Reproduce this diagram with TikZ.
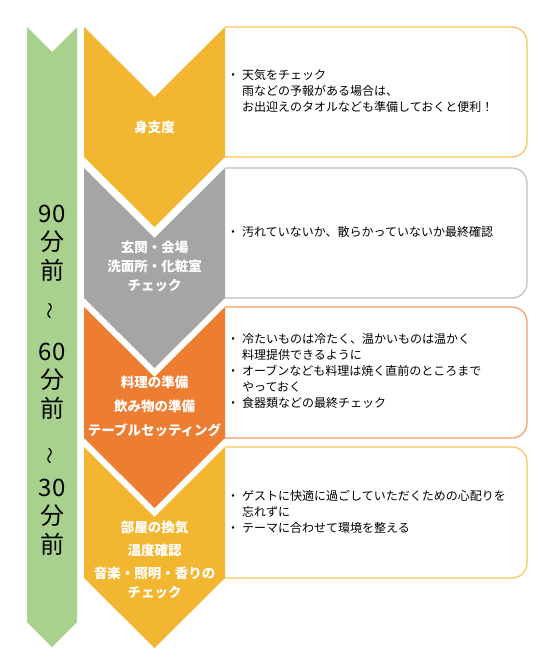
\documentclass[tikz,border=0pt]{standalone}
\usepackage{fontspec}
\setmainfont{Noto Sans CJK JP}
\usepackage{tikz}
\definecolor{gold}{HTML}{F2B630}
\definecolor{goldline}{HTML}{F6C457}
\definecolor{stone}{HTML}{A5A5A5}
\definecolor{stoneline}{HTML}{BDBDBD}
\definecolor{rust}{HTML}{ED7D31}
\definecolor{rustline}{HTML}{F19A62}
\definecolor{sage}{HTML}{A9D18E}
\newcommand{\itm}{・\hspace{3pt}}
\newcommand{\ind}{\hphantom{\itm}}

\begin{document}
\begin{tikzpicture}[
  x=1pt, y=-1pt,
  every node/.style={inner sep=0pt},
  card/.style={fill=white, line width=1.2pt, rounded corners=15pt},
  lbl/.style={text=white, align=center, font=\fontsize{13.5}{19}\selectfont\bfseries},
  note/.style={anchor=west, align=left, font=\fontsize{12}{16}\selectfont},
  side/.style={align=center, font=\fontsize{24}{28.5}\selectfont},
  wave/.style={rotate=90, font=\fontsize{17}{17}\selectfont},
]
\useasboundingbox (0,0) rectangle (554,669);

% time bar
\fill[sage] (27,27) -- (52,52) -- (77,27) -- (77,622) -- (52,647) -- (27,622) -- cycle;
\node[side] (t90) at (52,243) {90\\分\\前};
\node[wave] (til1) at (52,311) {～};
\node[side] (t60) at (52,381) {60\\分\\前};
\node[wave] (til2) at (52,456) {～};
\node[side] (t30) at (52,517) {30\\分\\前};

% cards, left edge hidden under the chevrons
\begin{scope}
\clip (225,0) rectangle (554,669);
\draw[card, draw=goldline] (200,27) rectangle (527,157);
\draw[card, draw=stoneline] (200,168) rectangle (527,298);
\draw[card, draw=rustline] (200,307) rectangle (527,438);
\draw[card, draw=goldline] (200,447) rectangle (527,578);
\end{scope}

% chevrons
\fill[gold] (84,27) -- (154.5,97) -- (225,27) -- (225,157) -- (154.5,227) -- (84,157) -- cycle;
\fill[stone] (84,168) -- (154.5,238) -- (225,168) -- (225,298) -- (154.5,368) -- (84,298) -- cycle;
\fill[rust] (84,307) -- (154.5,377) -- (225,307) -- (225,438) -- (154.5,508) -- (84,438) -- cycle;
\fill[gold] (84,447) -- (154.5,517) -- (225,447) -- (225,578) -- (154.5,648) -- (84,578) -- cycle;

\node[lbl] (prep) at (154.5,127) {身支度};
\node[lbl] (rooms) at (154.5,266) {玄関・会場\\洗面所・化粧室\\チェック};
\node[lbl] (food) at (154.5,406) {料理の準備\\[5pt]飲み物の準備\\[5pt]テーブルセッティング};
\node[lbl] (mood) at (154.5,560) {部屋の換気\\[4pt]温度確認\\[4pt]音楽・照明・香りの\\チェック};

\node[note] (n1) at (227,91) {\itm 天気をチェック\\\ind 雨などの予報がある場合は、\\\ind お出迎えのタオルなども準備しておくと便利！};
\node[note] (n2) at (227,232) {\itm 汚れていないか、散らかっていないか最終確認};
\node[note] (n3) at (227,371) {\itm 冷たいものは冷たく、温かいものは温かく\\\ind 料理提供できるように\\\itm オーブンなども料理は焼く直前のところまで\\\ind やっておく\\\itm 食器類などの最終チェック};
\node[note] (n4) at (227,512) {\itm ゲストに快適に過ごしていただくための心配りを\\\ind 忘れずに\\\itm テーマに合わせて環境を整える};
\end{tikzpicture}
\end{document}
